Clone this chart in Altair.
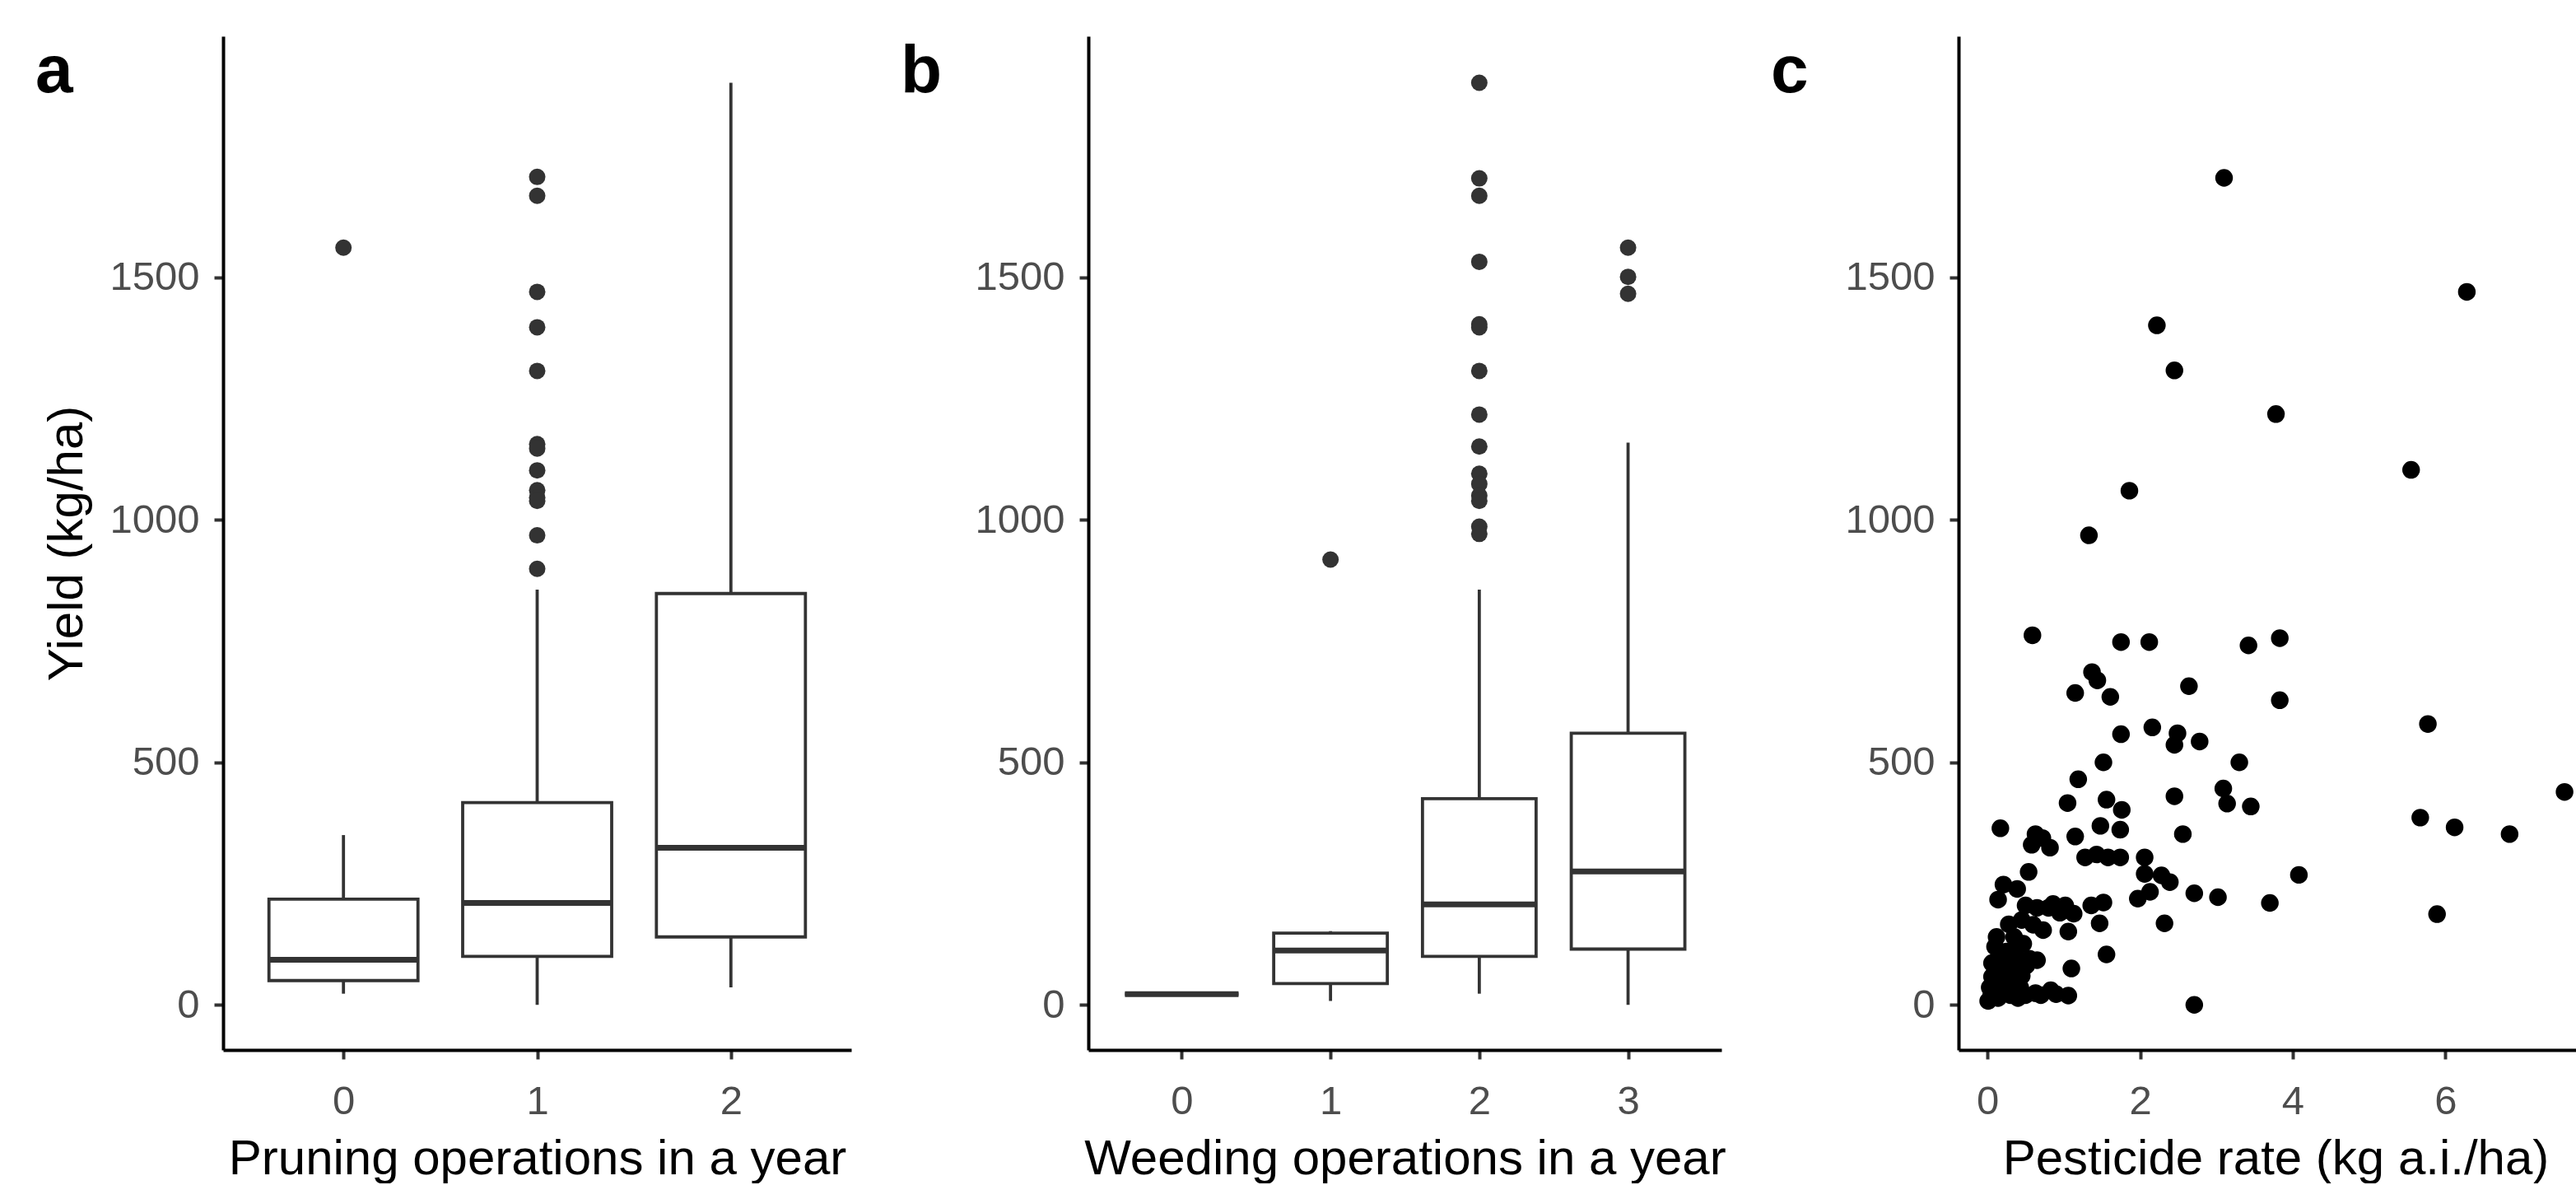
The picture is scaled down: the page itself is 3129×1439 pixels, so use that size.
import altair as alt
import pandas as pd

# ---------------- data ----------------
Y_DOMAIN = [-93, 1997]
Y_TICKS = [0, 500, 1000, 1500]

# Panel a: pruning operations (box statistics)
prune_cat = [0, 1, 2]
prune_lo = [23, 0, 36]
prune_q1 = [50, 100, 140]
prune_med = [93, 210, 324]
prune_q3 = [218, 417, 848]
prune_hi = [350, 856, 1901]
prune_outliers = {
    0: [1561],
    1: [1707, 1668, 1470, 1397, 1307, 1156, 1147, 1102, 1061, 1046, 1039, 968, 899],
    2: [],
}

# Panel b: weeding operations
weed_cat = [0, 1, 2, 3]
weed_lo = [22, 8, 23, 0]
weed_q1 = [22, 44, 100, 115]
weed_med = [22, 112, 207, 275]
weed_q3 = [22, 148, 425, 560]
weed_hi = [22, 152, 856, 1159]
weed_outliers = {
    0: [],
    1: [918],
    2: [1901, 1704, 1668, 1532, 1403, 1397, 1307, 1217, 1151, 1095, 1074, 1050, 1039, 986, 971],
    3: [1561, 1501, 1466],
}

# Panel c: pesticide rate vs yield
pest_x = [3.10, 6.28, 2.22, 2.45, 3.78, 5.55, 1.86, 1.33,
          0.59, 1.75, 2.12, 3.42, 3.83,
          1.37, 1.44, 1.15, 1.61, 2.64, 3.83,
          5.77,
          1.75, 2.16, 2.49, 2.45, 2.78,
          1.52, 3.30,
          1.19,
          3.09, 3.14, 3.45, 2.45, 1.05, 1.56, 1.76,
          7.56, 5.67, 6.12, 6.84, 5.89, 4.08, 3.70, 3.02, 2.71, 2.32, 2.71, 2.56,
          0.17, 0.63, 0.72, 0.82, 0.58, 1.15, 1.48, 1.74,
          1.28, 1.43, 1.58, 1.74, 2.06,
          2.06, 2.28, 2.39, 2.13, 1.97,
          0.54, 0.21, 0.39, 0.14, 0.50, 0.65, 0.86, 1.02, 1.13, 1.36, 1.52, 1.47,
          1.06, 0.73, 0.28, 0.12,
          1.56, 1.10, 0.47, 0.65, 0.06, 0.21, 0.36, 0.06, 0.28, 0.51, 0.03, 0.21,
          0.43, 0.63, 0.83, 1.06, 0.01, 0.40, 0.14,
          0.10, 0.20, 0.30, 0.25, 0.35, 0.15, 0.45, 0.05, 0.30, 0.50, 0.70, 0.90,
          0.10, 0.40, 0.55, 0.20, 0.35, 0.45, 0.60, 0.80, 0.95]
pest_y = [1705, 1470, 1401, 1308, 1218, 1103, 1060, 968,
          762, 748, 748, 741, 756,
          686, 669, 643, 635, 657, 628,
          579,
          558, 572, 560, 536, 543,
          500, 500,
          465,
          446, 415, 409, 430, 416, 423, 402,
          439, 386, 366, 352, 187, 268, 210, 222, 230, 168, 0, 352,
          364, 352, 344, 324, 330, 347, 369, 361,
          304, 310, 304, 304, 304,
          270, 267, 253, 233, 219,
          274, 248, 239, 217, 205, 200, 208, 205, 188, 205, 211, 168,
          151, 154, 166, 140,
          104, 75, 126, 92, 86, 97, 109, 58, 70, 81, 36, 30,
          36, 24, 30, 19, 8, 14, 14,
          60, 45, 50, 110, 80, 100, 60, 20, 20, 20, 20, 22,
          120, 95, 95, 75, 140, 175, 165, 200, 190]

# ---------------- styling ----------------
FONT = "Liberation Sans"
HEIGHT = 1231
BOX_COLOR = "#333333"
LABEL_GREY = "#4d4d4d"
LINE_W = 3.8

yscale = alt.Scale(domain=Y_DOMAIN, nice=False, zero=False)


def y_axis(show_title):
    kw = dict(values=Y_TICKS, format="d", labelPadding=18, labelFlush=False)
    if show_title:
        kw.update(title="Yield (kg/ha)", titleX=-172, titleY=HEIGHT / 2,
                  titleAngle=270, titleBaseline="alphabetic", titleAlign="center")
    else:
        kw.update(title=None)
    return alt.Axis(**kw)


def x_axis(values, title, title_x):
    return alt.Axis(values=values, format="d",
                    title=title, titleX=title_x, titleY=150, titleBaseline="alphabetic",
                    titleAlign="center", labelPadding=27, labelFlush=False)


def letter_layer(letter):
    return alt.Chart(pd.DataFrame({"lab": [letter]})).mark_text(
        align="left", baseline="alphabetic", fontSize=82, fontWeight="bold",
        color="black", font=FONT
    ).encode(text="lab:N", x=alt.value(-228), y=alt.value(68))


def box_panel(cats, lo, q1, med, q3, hi, outliers, width, box_px, xtitle, letter, show_ytitle):
    stats = pd.DataFrame({"cat": cats, "lo": lo, "q1": q1, "med": med, "q3": q3, "hi": hi})
    out_rows = [(c, v) for c in cats for v in outliers.get(c, [])]
    outs = pd.DataFrame(out_rows, columns=["cat", "val"])
    xdom = [min(cats) - 0.6, max(cats) + 0.6]
    xs = alt.Scale(domain=xdom, nice=False, zero=False)
    xax = x_axis(cats, xtitle, width / 2)
    yax = y_axis(show_ytitle)
    X = alt.X("cat:Q", scale=xs, axis=xax)

    base = alt.Chart(stats)
    w_low = base.mark_rule(color=BOX_COLOR, strokeWidth=LINE_W).encode(
        x=X, y=alt.Y("lo:Q", scale=yscale, axis=yax), y2="q1:Q")
    w_high = base.mark_rule(color=BOX_COLOR, strokeWidth=LINE_W).encode(
        x=X, y=alt.Y("q3:Q", scale=yscale, axis=yax), y2="hi:Q")
    box = base.mark_bar(size=box_px, fill="white", stroke=BOX_COLOR, strokeWidth=LINE_W).encode(
        x=X, y=alt.Y("q1:Q", scale=yscale, axis=yax), y2="q3:Q")
    median = base.mark_tick(orient="horizontal", size=box_px, thickness=7,
                            color=BOX_COLOR, opacity=1).encode(
        x=X, y=alt.Y("med:Q", scale=yscale, axis=yax))
    pts = alt.Chart(outs).mark_circle(size=400, color=BOX_COLOR, opacity=1).encode(
        x=X, y=alt.Y("val:Q", scale=yscale, axis=yax))
    return alt.layer(w_low, w_high, box, median, pts, letter_layer(letter)).properties(
        width=width, height=HEIGHT)


panel_a = box_panel(prune_cat, prune_lo, prune_q1, prune_med, prune_q3, prune_hi,
                    prune_outliers, 763, 181, "Pruning operations in a year", "a", True)
panel_b = box_panel(weed_cat, weed_lo, weed_q1, weed_med, weed_q3, weed_hi,
                    weed_outliers, 769, 138, "Weeding operations in a year", "b", False)

scatter_df = pd.DataFrame({"x": pest_x, "y": pest_y})
pest_scale = alt.Scale(domain=[-0.378, 7.71], nice=False, zero=False)
scatter = alt.Chart(scatter_df).mark_circle(size=460, color="black", opacity=1).encode(
    x=alt.X("x:Q", scale=pest_scale,
            axis=alt.Axis(values=[0, 2, 4, 6], format="d", title="Pesticide rate (kg a.i./ha)",
                          titleX=385, titleY=150, titleBaseline="alphabetic",
                          titleAlign="center", labelPadding=27, labelFlush=False)),
    y=alt.Y("y:Q", scale=yscale, axis=y_axis(False)),
)
panel_c = alt.layer(scatter, letter_layer("c")).properties(width=750, height=HEIGHT)

chart = alt.hconcat(panel_a, panel_b, panel_c, spacing=288, bounds="flush").properties(
    padding={"left": 43, "top": 44, "right": 0, "bottom": 0},
    background="white",
).configure(font=FONT).configure_view(stroke=None).configure_axis(
    grid=False,
    domainColor="black",
    domainWidth=4,
    tickColor=BOX_COLOR,
    tickWidth=4,
    tickSize=11,
    labelColor=LABEL_GREY,
    labelFontSize=49,
    labelFont=FONT,
    titleFont=FONT,
    titleFontSize=60,
    titleFontWeight="normal",
    titleColor="black",
)

chart.save("out.html", embed_options={"renderer": "svg", "actions": False})
